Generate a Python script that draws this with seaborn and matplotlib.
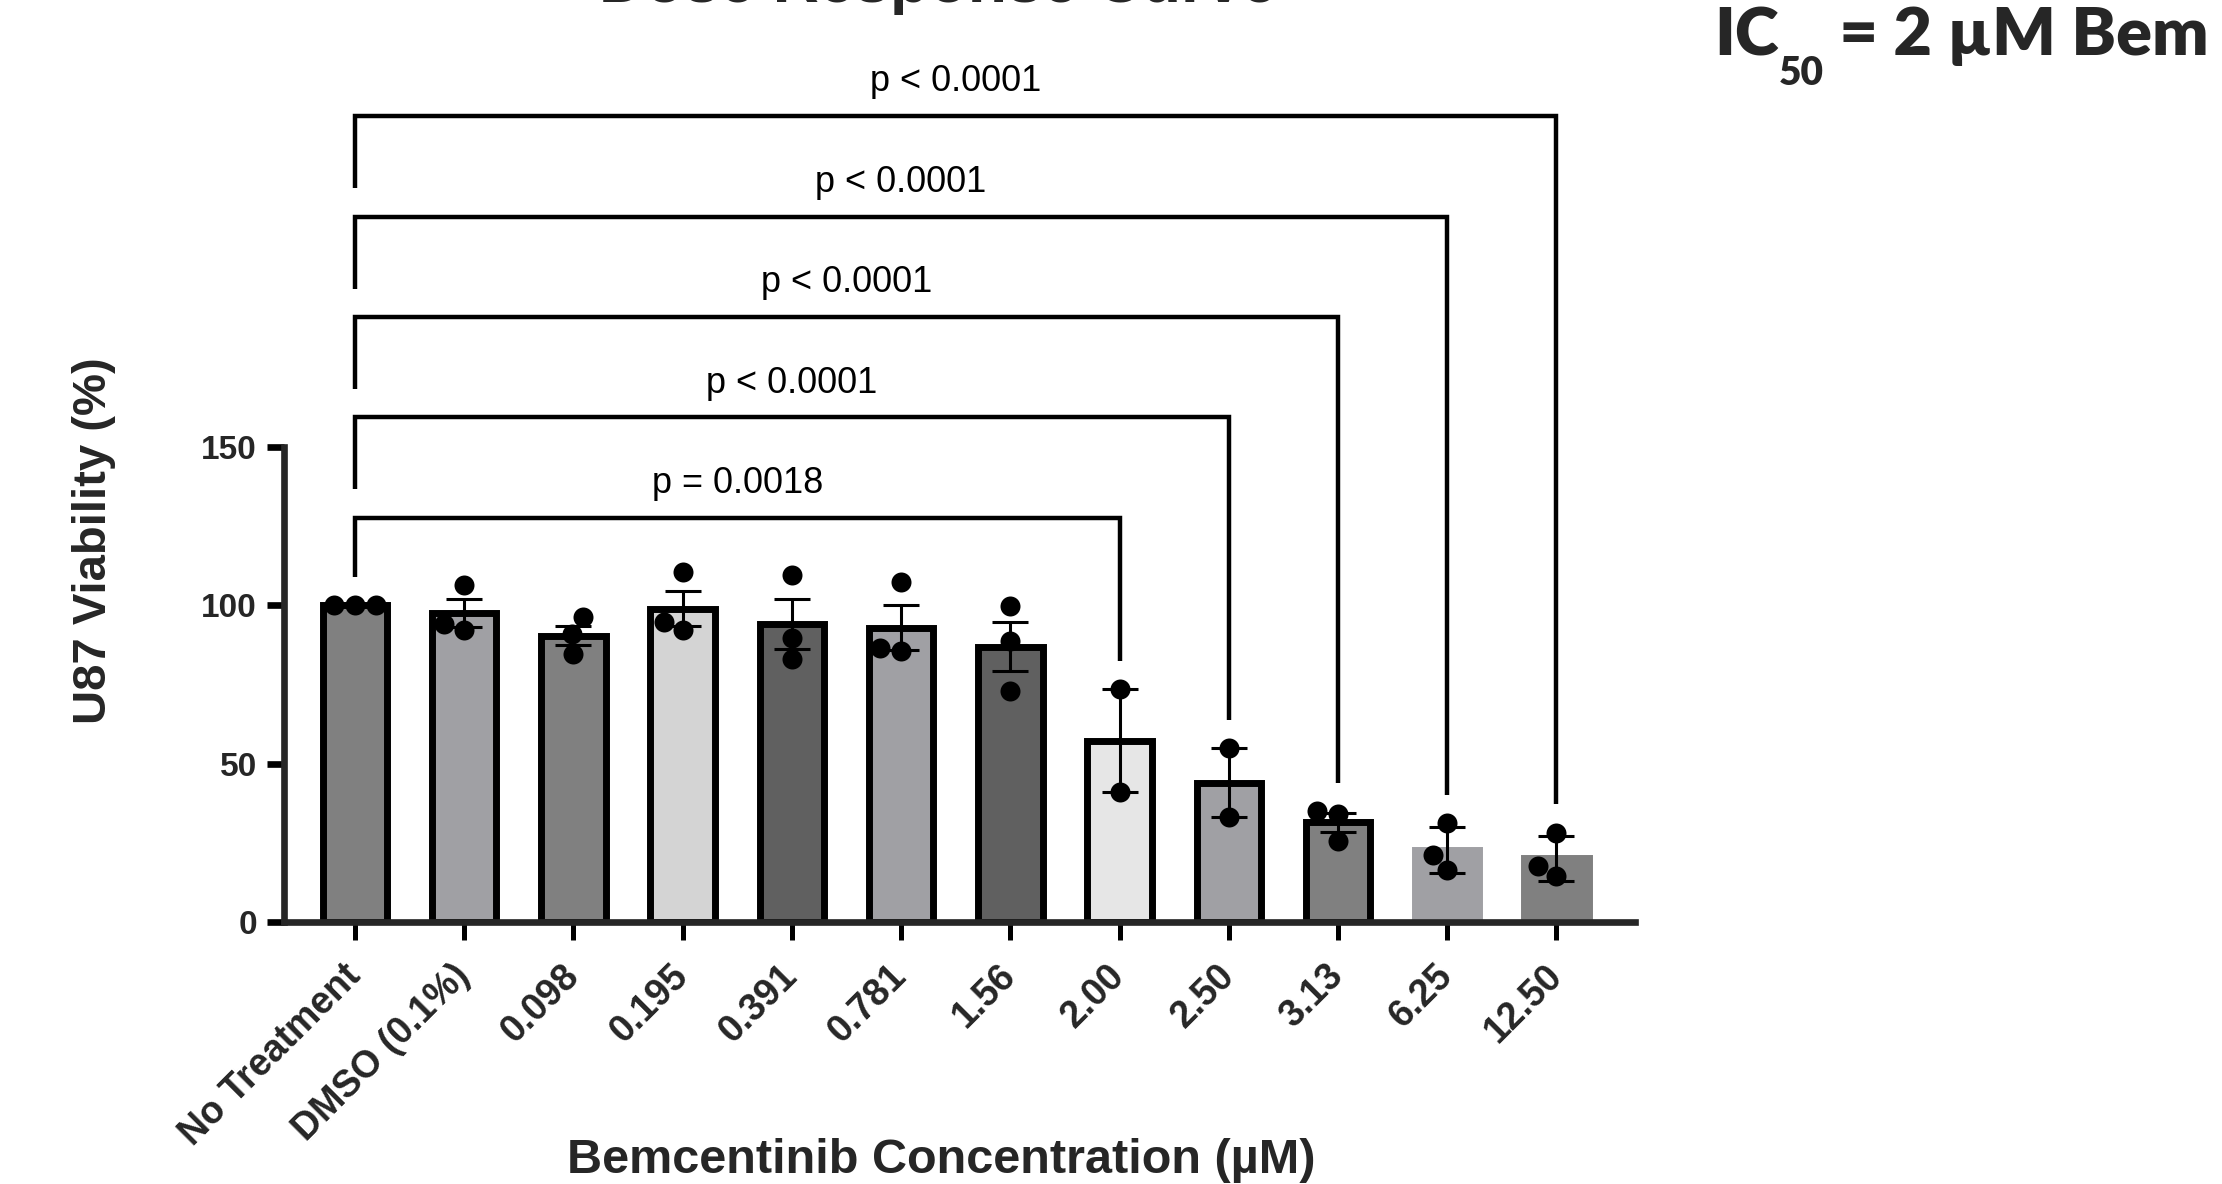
import numpy as np
import pandas as pd
import matplotlib
matplotlib.use("Agg")
import matplotlib.pyplot as plt
import seaborn as sns

# ---------------- data ----------------
categories = ["No Treatment", "DMSO (0.1%)", "0.098", "0.195", "0.391", "0.781",
              "1.56", "2.00", "2.50", "3.13", "6.25", "12.50"]
mean_viability = [100.0, 97.6, 90.5, 99.0, 94.0, 93.0, 87.0, 57.3, 44.0, 31.5, 22.8, 20.0]
sem_viability = [0.0, 4.3, 3.1, 5.6, 7.9, 7.1, 7.8, 16.3, 10.9, 3.0, 7.3, 7.0]
replicates = [
    [100.0, 100.0, 100.0],
    [106.6, 92.1, 94.2],
    [96.3, 84.7, 91.0],
    [110.6, 92.1, 94.9],
    [109.5, 89.7, 83.1],
    [107.4, 85.7, 86.5],
    [99.8, 88.9, 73.0],
    [73.6, 41.0],
    [54.9, 33.1],
    [35.0, 34.2, 25.5],
    [31.1, 21.2, 16.5],
    [28.1, 17.5, 14.6],
]
bar_colors = ["#808080", "#A0A0A4", "#808080", "#D4D4D4", "#606060", "#A0A0A4",
              "#606060", "#E6E6E6", "#A0A0A4", "#808080", "#A0A0A4", "#808080"]
bar_outlined = [True, True, True, True, True, True, True, True, True, True, False, False]
comparison_ref = "No Treatment"
comparison_targets = ["2.00", "2.50", "3.13", "6.25", "12.50"]
comparison_labels = ["p = 0.0018", "p < 0.0001", "p < 0.0001", "p < 0.0001", "p < 0.0001"]
yticks = [0, 50, 100, 150]

title = "Dose Response Curve"
ylabel = "U87 Viability (%)"
xlabel = "Bemcentinib Concentration (\u00b5M)"

# ---------------- figure ----------------
W, H = 2222, 1184
sns.set_style("ticks")
plt.rcParams["font.family"] = ["Liberation Sans", "DejaVu Sans"]
fig = plt.figure(figsize=(W / 100, H / 100), dpi=100)
ax = fig.add_axes([283.5 / W, 1 - 921.7 / H, 1351.5 / W, 885.4 / H])

sns.barplot(x=categories, y=mean_viability, hue=categories, order=categories,
            hue_order=categories, palette=bar_colors, saturation=1, legend=False,
            width=0.59, edgecolor="black", linewidth=5, errorbar=None, ax=ax, zorder=2)
for p in ax.patches:
    i = int(round(p.get_x() + p.get_width() / 2))
    if not bar_outlined[i]:
        p.set_edgecolor(p.get_facecolor())

xpos = np.arange(len(categories))
ax.errorbar(xpos, mean_viability, yerr=sem_viability, fmt="none", ecolor="black",
            elinewidth=2.2, capsize=13, capthick=2.2, zorder=3)

long = pd.DataFrame({
    "group": [c for c, reps in zip(categories, replicates) for _ in reps],
    "viability": [v for reps in replicates for v in reps],
})
sns.swarmplot(data=long, x="group", y="viability", order=categories, color="black",
              size=14.4, linewidth=0, ax=ax, zorder=4)

# ---------------- significance brackets ----------------
base_level, level_step, gap = 127.7, 31.75, 9.0
i0 = categories.index(comparison_ref)
prev = max(replicates[i0])
for k, (tgt, lab) in enumerate(zip(comparison_targets, comparison_labels)):
    j = categories.index(tgt)
    lvl = base_level + k * level_step
    left_end = prev + gap
    right_end = max(replicates[j]) + gap
    ax.plot([i0, i0, j, j], [left_end, lvl, lvl, right_end], color="black", lw=3.2,
            solid_joinstyle="miter", solid_capstyle="butt", clip_on=False, zorder=5)
    ax.text((i0 + j) / 2, lvl + 7.9, lab, ha="center", va="baseline", fontsize=26,
            color="black")
    prev = lvl

# ---------------- axes styling ----------------
ax.set_xlim(-0.655, 11.72)
ax.set_ylim(0, 280)
ax.set_yticks(yticks)
ax.set_xlabel("")
ax.set_ylabel("")
for s in ["top", "right"]:
    ax.spines[s].set_visible(False)
ax.spines["left"].set_bounds(0, 150)
ax.spines["left"].set_linewidth(4.8)
ax.spines["bottom"].set_linewidth(4.8)
ax.tick_params(axis="y", length=12, width=4.8, labelsize=24, pad=7, color="black")
ax.tick_params(axis="x", length=13, width=3.6, labelsize=27, pad=22, color="black")
for t in ax.get_yticklabels():
    t.set_fontweight("bold")
for t in ax.get_xticklabels():
    t.set_fontweight("bold")
    t.set_rotation(45)
    t.set_ha("right")
    t.set_va("center")
    t.set_rotation_mode("anchor")

fig.text(938 / W, 1 - 2 / H, title, fontsize=46, fontweight="bold", ha="center",
         va="baseline")
fig.text(94 / W, 1 - 541 / H, ylabel, fontsize=34, fontweight="bold", rotation=90,
         ha="center", va="center")
fig.text(941 / W, 1 - 1173 / H, xlabel, fontsize=35, fontweight="bold", ha="center",
         va="baseline")

# ---------------- IC50 annotation ----------------
fig.canvas.draw()
r = fig.canvas.get_renderer()
fam = ["Lato", "DejaVu Sans"]
t_ic = fig.text(1714 / W, 1 - 55 / H, "IC", fontsize=48, fontweight="heavy",
                family=fam, ha="left", va="baseline")
bb = t_ic.get_window_extent(r)
t_sub = fig.text(bb.x1 / W, 1 - 85 / H, "50", fontsize=28, fontweight="heavy",
                 family=fam, ha="left", va="baseline")
bb2 = t_sub.get_window_extent(r)
fig.text(bb2.x1 / W, 1 - 55 / H, " = 2 \u00b5M Bem", fontsize=48, fontweight="heavy",
         family=fam, ha="left", va="baseline")

fig.savefig("out.png", dpi=100)
